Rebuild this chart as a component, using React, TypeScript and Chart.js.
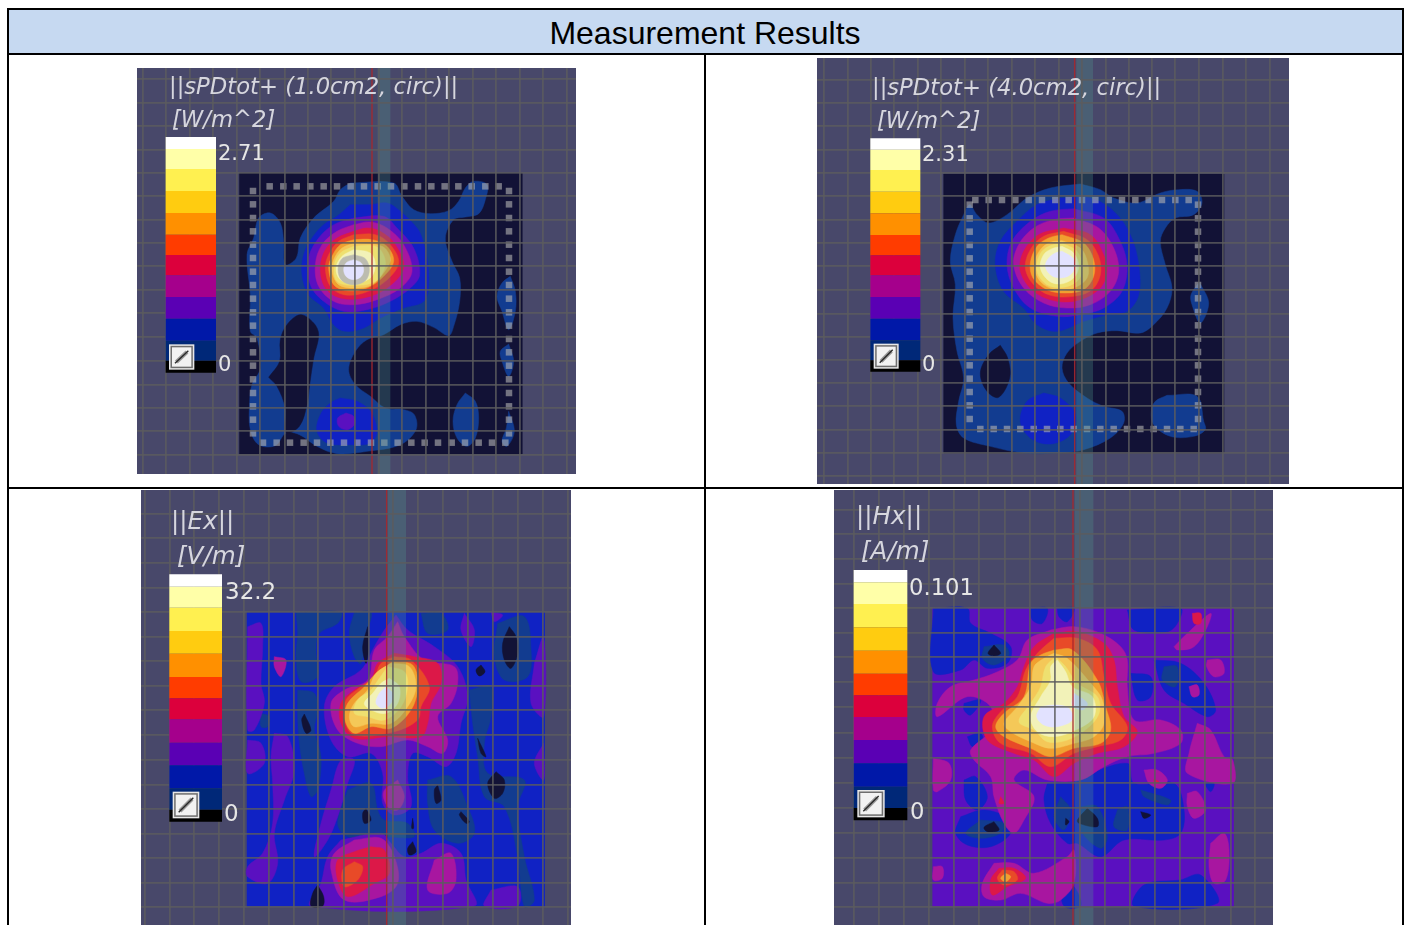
import React, { useEffect, useRef } from "react";
import { Chart, registerables } from "chart.js";

Chart.register(...registerables);

type Layer = [number, number[]];

const levelColors = ["#121236", "#123c90", "#1022c4", "#5a10c0", "#a816a0", "#dc1848", "#e84a28", "#f0a030", "#f4c858", "#eee070", "#f2f2b8", "#e2e2ff", "#bcbcb0"];
const barColors = ["#ffffff", "#ffffa8", "#fff050", "#ffcc10", "#ff9000", "#ff3c00", "#dc003c", "#a5008c", "#5a00b4", "#0018a8", "#002878", "#000000"];

// ---- panel 1: ||sPDtot+ (1.0cm2, circ)||
const p1GridX = [17, 88, 158, 229, 299, 370, 443, 513, 582, 654, 725, 795, 866, 937, 1008, 1078, 1148, 1219, 1290];
const p1GridY = [33, 104, 174, 245, 315, 385, 455, 525, 595, 665, 735, 808, 878, 950, 1020, 1090, 1160];
const p1BarEdges = [207, 243, 303, 369, 435, 500, 561, 622, 687, 752, 818, 878, 914];
const p1DotsTop = [398, 439, 479, 520, 560, 600, 641, 681, 722, 762, 802, 843, 883, 923, 964, 1004, 1045, 1085];
const p1DotsBottom = [378, 419, 459, 500, 540, 580, 621, 661, 702, 742, 782, 823, 863, 903, 944, 984, 1025, 1065, 1105];
const p1DotsSide = [369, 409, 450, 490, 530, 570, 611, 651, 692, 733, 773, 813, 853, 893, 934, 975, 1015, 1055, 1096];
const p1Layers: Layer[] = [
  [1, [640,345,770,345,795,385,830,425,880,437,935,428,965,400,985,360,1010,340,1050,350,1045,395,1025,437,985,447,950,455,925,510,945,580,968,630,968,700,950,775,935,803,890,778,840,760,790,770,740,800,690,815,655,850,635,905,655,950,700,985,745,1020,800,1025,832,1040,837,1085,790,1130,690,1150,600,1157,540,1135,487,1100,447,1095,415,1133,365,1130,340,1085,338,1000,345,950,370,900,360,810,340,790,340,680,330,560,350,510,365,450,400,435,430,465,440,520,445,590,478,570,490,510,530,450,590,400,610,365]],
  [0, [395,928,428,880,430,815,450,770,490,740,530,765,545,800,530,870,518,950,510,1010,487,1075,447,1095,445,1020,420,955]],
  [1, [985,975,1015,1000,1025,1050,1015,1110,990,1135,960,1110,948,1060,960,1010]],
  [1, [1120,625,1135,670,1135,730,1115,785,1095,730,1080,685,1095,645]],
  [1, [1115,828,1130,880,1115,925,1095,880,1090,850]],
  [1, [1115,1030,1132,1090,1110,1135,1095,1120,1108,1080]],
  [2, [640,410,600,445,560,470,525,510,500,560,495,620,515,680,560,720,590,770,625,790,680,780,730,750,800,720,860,700,875,650,870,570,855,510,840,480,790,430,750,405,700,410]],
  [2, [610,990,660,1000,700,1030,720,1090,700,1125,640,1130,570,1125,540,1090,550,1040,580,1005]],
  [3, [627,1035,650,1045,652,1070,630,1085,605,1075,602,1050]],
  [3, [650,450,590,470,545,510,515,570,520,650,560,700,620,730,690,725,760,700,820,660,848,620,830,540,780,480,740,445]],
  [4, [650,470,600,490,555,530,535,590,545,655,590,700,650,710,720,695,790,660,825,610,800,530,750,480,700,462]],
  [5, [650,490,600,510,565,545,550,600,565,660,610,690,680,690,750,660,800,600,775,530,730,490,690,480]],
  [6, [650,500,605,520,575,560,565,600,580,655,620,680,680,675,745,640,785,585,760,530,715,500]],
  [7, [650,515,610,530,585,565,575,600,590,650,630,668,690,660,740,625,770,580,750,535,705,515]],
  [8, [655,525,615,540,590,575,585,610,605,650,650,660,705,650,750,600,760,570,735,535]],
  [9, [650,535,610,555,592,590,600,640,650,652,715,640,745,590,730,545,700,532]],
  [10, [650,545,615,565,597,600,610,635,650,645,700,630,715,590,700,555]],
  [12, [650,560,685,572,697,605,685,638,650,650,615,638,603,605,615,572]],
  [11, [650,575,672,584,680,605,672,626,650,635,628,626,620,605,628,584]],
];

// ---- panel 2: ||sPDtot+ (4.0cm2, circ)||
const p2GridX = [22, 92, 162, 232, 302, 372, 443, 513, 584, 655, 725, 795, 866, 935, 1005, 1075, 1145, 1218, 1288, 1358];
const p2GridY = [65, 135, 205, 275, 345, 415, 485, 555, 625, 695, 767, 838, 905, 975, 1045, 1115, 1185, 1255];
const p2BarEdges = [241, 275, 336, 401, 466, 531, 592, 652, 717, 782, 847, 907, 941];
const p2DotsTop = [475, 515, 555, 595, 635, 675, 715, 755, 795, 835, 875, 915, 955, 995, 1035, 1075, 1115];
const p2DotsBottom = [490, 530, 570, 610, 650, 690, 730, 770, 810, 850, 890, 930, 970, 1010, 1050, 1090, 1130];
const p2DotsSide = [440, 481, 521, 561, 601, 641, 681, 721, 762, 802, 842, 882, 922, 962, 1002, 1042, 1083];
const p2Layers: Layer[] = [
  [1, [790,378,850,395,890,420,960,435,1030,405,1085,395,1140,400,1155,435,1130,470,1075,480,1045,510,1030,550,1045,620,1065,690,1050,750,1010,800,970,825,900,818,840,825,790,850,750,885,735,930,755,975,810,1020,860,1045,915,1060,920,1095,880,1140,800,1175,720,1185,620,1185,520,1165,440,1140,418,1100,425,1030,440,960,420,880,408,780,415,680,400,610,415,530,440,470,458,440,480,470,515,495,570,470,630,420,700,390]],
  [0, [550,862,572,900,578,960,545,1018,510,1000,490,945,515,890]],
  [1, [1050,1012,1140,1015,1160,1090,1165,1115,1130,1135,1060,1135,1010,1100,1003,1060,1015,1030]],
  [1, [1147,672,1175,735,1150,795,1125,740,1122,710]],
  [2, [730,420,820,420,890,460,940,530,965,620,965,710,930,760,870,770,800,790,720,820,660,800,620,750,560,700,535,620,550,550,600,490,660,440]],
  [2, [680,1005,730,1020,775,1070,760,1130,700,1158,640,1140,610,1090,630,1030]],
  [3, [770,452,860,480,905,540,930,620,915,700,860,750,790,770,720,775,640,750,590,690,570,620,585,550,640,490,700,460]],
  [4, [770,480,845,510,890,570,905,640,880,700,820,740,750,750,680,735,620,690,590,620,605,560,650,510,710,485]],
  [5, [740,510,820,530,860,590,870,640,850,690,790,725,720,730,650,700,610,640,620,580,665,530]],
  [6, [740,520,810,545,845,595,850,650,825,695,770,715,700,712,650,680,625,630,640,575,680,535]],
  [7, [735,530,800,555,830,605,830,655,800,695,740,705,690,695,648,660,640,615,660,565,695,540]],
  [8, [735,548,790,570,812,615,810,660,770,690,715,695,670,670,652,620,670,575,700,553]],
  [9, [735,555,780,580,795,625,785,665,740,688,690,680,660,640,668,590,695,565]],
  [10, [735,565,770,585,785,625,770,660,730,678,695,668,670,630,680,590,705,572]],
  [11, [735,580,768,600,775,625,760,650,730,660,700,650,685,625,695,600,715,585]],
];

// ---- panel 3: ||Ex||
const p3GridX = [11, 86, 160, 235, 310, 385, 458, 532, 608, 683, 757, 832, 905, 980, 1055, 1130, 1205, 1280];
const p3GridY = [71, 145, 219, 293, 367, 440, 514, 588, 660, 735, 810, 884, 958, 1032, 1105, 1180, 1252];
const p3BarEdges = [253, 290, 353, 423, 491, 561, 625, 688, 758, 826, 895, 959, 995];
const p3Layers: Layer[] = [
  [1, [465,367,600,367,590,400,535,430,525,480,530,560,480,575,465,500,470,430]],
  [1, [470,600,520,610,530,660,520,720,540,800,530,900,510,920,490,850,475,760,470,680]],
  [1, [640,367,690,367,680,420,660,520,640,500,625,430]],
  [1, [985,600,1050,590,1050,680,1030,760,1040,850,1150,870,1130,950,1150,1100,1180,1230,1150,1250,1130,1100,1090,950,1030,920,1010,800,995,700]],
  [1, [1070,400,1150,380,1170,480,1160,560,1090,570,1060,500]],
  [1, [620,900,690,880,710,960,730,990,800,1000,820,1040,740,1040,620,1040,590,1000]],
  [1, [860,870,930,860,980,950,1000,1030,950,1060,880,1020,860,940]],
  [1, [360,670,385,680,380,710,360,710]],
  [1, [840,370,900,370,920,420,860,430]],
  [3, [320,410,360,400,365,470,360,580,370,640,340,720,320,720]],
  [3, [320,750,360,760,370,820,320,850]],
  [3, [400,730,440,740,460,840,430,930,400,1030,410,1120,380,1180,320,1160,320,1130,365,1090,395,1000,395,880,390,800]],
  [3, [1180,520,1208,440,1208,680,1170,640]],
  [3, [1208,760,1208,870,1180,820]],
  [3, [765,375,800,420,880,470,950,530,980,620,960,700,945,790,915,830,860,800,815,790,800,860,810,950,760,975,725,940,725,850,690,790,620,800,570,750,550,650,580,590,660,540,700,470,730,420]],
  [3, [600,1050,720,1030,750,1060,790,1100,840,1090,900,1060,960,1090,975,1170,1000,1248,510,1248,540,1180,560,1100]],
  [3, [570,900,600,810,640,810,620,880,590,980,560,1050,520,1100,540,1000]],
  [3, [1050,1200,1130,1190,1130,1248,1030,1248]],
  [3, [970,370,1000,420,990,470,960,420]],
  [3, [1050,367,1085,375,1060,395]],
  [4, [400,500,435,510,420,560,400,530]],
  [4, [770,395,790,440,850,510,940,530,950,580,930,640,890,680,920,750,905,790,860,770,800,750,720,770,650,760,590,720,570,640,610,600,680,570,700,480,740,440]],
  [4, [770,870,790,920,770,960,740,950,728,905]],
  [4, [640,1050,720,1045,760,1100,770,1180,720,1220,610,1230,570,1140,580,1090]],
  [4, [880,1110,930,1090,945,1170,920,1210,860,1200]],
  [5, [760,490,820,500,890,520,900,580,870,640,860,700,840,740,740,740,640,745,600,700,600,640,640,600,690,570,710,520]],
  [5, [690,1070,730,1080,745,1150,700,1180,620,1220,590,1170,590,1110,640,1085]],
  [6, [760,500,810,510,865,590,840,650,830,690,760,725,640,735,610,690,615,630,660,590,700,560,720,520]],
  [6, [640,1115,665,1130,650,1170,610,1190,605,1140]],
  [7, [755,515,815,525,830,590,810,660,750,715,690,710,640,730,612,690,620,640,670,590,705,550]],
  [8, [750,520,805,530,825,590,800,650,750,700,690,700,640,710,625,680,640,640,680,600,705,550]],
  [9, [740,530,790,545,800,590,780,650,730,690,680,680,640,670,650,630,690,600,715,565]],
  [10, [745,565,775,590,770,640,735,670,690,660,670,640,695,610,720,580]],
  [11, [735,590,755,610,750,640,725,655,705,640,715,610]],
  [0, [1105,410,1125,440,1130,490,1110,535,1090,510,1085,460]],
  [0, [1020,525,1032,545,1015,558,1005,540]],
  [0, [680,410,682,480,675,520,665,470]],
  [0, [490,672,510,720,495,730,482,690]],
  [0, [1010,745,1035,800,1020,790]],
  [0, [1065,845,1090,870,1085,910,1060,925,1040,880]],
  [0, [890,885,900,930,885,940,880,900]],
  [0, [675,955,690,990,670,1000,665,970]],
  [0, [960,965,985,995,975,1000,955,975]],
  [0, [815,1055,825,1085,805,1095,800,1075]],
  [0, [530,1185,548,1220,545,1248,510,1248,515,1210]],
  [0, [815,985,818,1015,812,1015]],
];

// ---- panel 4: ||Hx||
const p4GridX = [60, 135, 210, 285, 360, 436, 512, 587, 662, 737, 812, 887, 962, 1037, 1112, 1190, 1262];
const p4GridY = [60, 133, 207, 281, 355, 428, 500, 575, 652, 728, 803, 878, 953, 1028, 1103, 1178, 1250];
const p4BarEdges = [240, 277, 342, 412, 482, 551, 616, 681, 750, 820, 890, 954, 991];
const p4Layers: Layer[] = [
  [2, [298,355,400,355,410,400,470,430,530,470,520,520,460,535,420,510,380,540,298,545]],
  [2, [590,355,640,355,625,400,595,390]],
  [2, [670,355,720,355,700,395,675,380]],
  [2, [880,360,1040,355,1030,400,1000,425,900,420]],
  [2, [890,550,950,560,950,620,910,630]],
  [2, [960,510,1040,520,1110,580,1145,660,1120,680,1050,640,990,600]],
  [2, [640,880,740,860,880,820,900,880,1020,880,1050,960,1040,1030,990,1050,870,1050,800,1100,730,1060,700,1060,650,1000,630,930]],
  [2, [380,980,450,960,520,985,530,1030,470,1070,400,1065,365,1030]],
  [2, [390,870,425,860,460,920,430,960,395,930]],
  [2, [400,740,440,730,445,765,415,770]],
  [2, [390,640,440,630,410,675,390,660]],
  [2, [1040,1170,1100,1155,1150,1240,900,1248,930,1185]],
  [2, [680,1180,720,1190,740,1248,690,1248]],
  [2, [1110,880,1140,880,1130,905]],
  [1, [450,470,510,465,525,495,480,525,445,505]],
  [1, [440,990,510,1000,500,1030,440,1045,395,1030]],
  [1, [680,920,710,960,690,1020,660,980]],
  [1, [740,950,790,950,820,1040,800,1075,740,1020]],
  [1, [850,960,880,950,880,1020,840,1010]],
  [1, [990,530,1030,530,1025,590,985,570]],
  [1, [920,900,1010,930,1000,945,930,920]],
  [4, [298,805,345,820,350,870,310,905,298,900]],
  [4, [650,420,720,410,800,430,860,470,880,510,880,590,900,690,980,690,1040,720,1040,760,960,790,880,800,810,830,740,870,640,870,570,840,540,870,600,920,570,990,540,1030,510,1000,480,920,470,860,420,810,410,780,470,720,470,650,400,620,310,680,310,640,350,590,420,570,480,550,550,510,580,450]],
  [4, [480,1120,540,1120,600,1150,700,1100,720,1080,720,1180,680,1230,640,1240,560,1210,500,1230,450,1220,445,1180]],
  [4, [1090,700,1130,720,1170,800,1196,810,1196,880,1060,850,1065,790]],
  [4, [1130,1060,1170,1030,1185,1080,1175,1170,1140,1180,1125,1130]],
  [4, [1060,910,1090,905,1115,960,1080,985,1060,950]],
  [4, [1020,470,1060,430,1130,370,1120,410,1080,470,1030,480]],
  [4, [1120,510,1160,510,1170,550,1140,560,1118,530]],
  [4, [1065,590,1090,585,1095,615,1075,620]],
  [4, [930,840,970,840,1000,870,980,895,945,880]],
  [4, [298,1130,325,1130,325,1165,298,1170]],
  [5, [1075,370,1100,370,1100,400,1080,400]],
  [5, [500,920,510,940,495,940]],
  [5, [960,868,975,875,960,880]],
  [5, [660,430,730,425,810,460,840,510,850,590,870,680,910,725,870,770,790,790,720,820,660,860,600,810,540,790,460,750,450,680,510,640,550,590,570,530,600,470]],
  [5, [495,1135,540,1135,575,1165,520,1190,475,1215,470,1170]],
  [6, [660,445,730,445,790,480,810,560,830,640,880,710,860,750,790,770,720,790,650,830,590,790,500,760,475,710,500,665,550,620,575,540,610,490]],
  [6, [505,1140,540,1145,550,1170,510,1185,490,1165]],
  [7, [660,480,715,480,790,570,815,650,830,720,800,760,720,775,650,800,590,775,510,740,485,710,510,670,570,620,590,520,620,495]],
  [7, [515,1150,530,1160,515,1175,500,1165]],
  [8, [660,490,700,505,770,580,805,630,810,700,780,740,720,760,650,775,590,755,530,725,510,700,550,650,590,590,600,530,630,505]],
  [9, [665,500,695,530,730,580,790,620,795,670,760,715,700,750,640,755,600,720,555,695,590,640,620,590,635,530]],
  [10, [670,510,695,545,715,590,775,620,780,680,725,720,660,740,610,725,590,680,620,620,650,570,650,530]],
  [11, [620,650,665,645,705,655,715,690,670,710,630,705,608,680]],
  [11, [720,610,760,640,745,660,715,645]],
  [0, [480,465,500,490,480,498,462,490]],
  [0, [480,995,495,1020,460,1025,450,1012]],
  [0, [760,955,790,985,790,1010,735,1000,730,990]],
  [0, [695,985,705,995,695,1005]],
  [0, [920,965,950,975,930,985]],
];

type Panel = {
  left: number; top: number; width: number; height: number;
  gridX: number[]; gridY: number[]; barEdges: number[]; layers: Layer[];
  plot: number[]; base: number; barX: number[]; icon: number[]; redX: number; band: number[];
  dots?: { top: number[]; bottom: number[]; side: number[]; yTop: number; yBottom: number; xLeft: number; xRight: number };
  title: string; unit: string; max: string; titleSize: number; valueSize: number;
  titleAt: number[]; unitAt: number[]; maxAt: number[]; zeroAt: number[];
};

const panels: Panel[] = [
  { left: 137, top: 68, width: 439, height: 406, gridX: p1GridX, gridY: p1GridY, barEdges: p1BarEdges, layers: p1Layers,
    plot: [307, 315, 1155, 1158], base: 0, barX: [86, 237], icon: [96, 830, 172, 904], redX: 705, band: [722, 760],
    dots: { top: p1DotsTop, bottom: p1DotsBottom, side: p1DotsSide, yTop: 355, yBottom: 1124, xLeft: 348, xRight: 1116 },
    title: "||sPDtot+ (1.0cm2, circ)||", unit: "[W/m^2]", max: "2.71", titleSize: 22.7, valueSize: 21,
    titleAt: [169, 73], unitAt: [172, 106], maxAt: [218, 140], zeroAt: [218, 351] },
  { left: 817, top: 58, width: 472, height: 426, gridX: p2GridX, gridY: p2GridY, barEdges: p2BarEdges, layers: p2Layers,
    plot: [380, 348, 1220, 1185], base: 0, barX: [160, 310], icon: [170, 857, 245, 932], redX: 773, band: [778, 828],
    dots: { top: p2DotsTop, bottom: p2DotsBottom, side: p2DotsSide, yTop: 426, yBottom: 1113, xLeft: 458, xRight: 1143 },
    title: "||sPDtot+ (4.0cm2, circ)||", unit: "[W/m^2]", max: "2.31", titleSize: 22.7, valueSize: 21,
    titleAt: [872, 74], unitAt: [877, 107], maxAt: [922, 141], zeroAt: [922, 351] },
  { left: 141, top: 490, width: 430, height: 435, gridX: p3GridX, gridY: p3GridY, barEdges: p3BarEdges, layers: p3Layers,
    plot: [318, 367, 1210, 1250], base: 2, barX: [85, 243], icon: [95, 905, 175, 985], redX: 737, band: [740, 795],
    title: "||Ex||", unit: "[V/m]", max: "32.2", titleSize: 24.6, valueSize: 23,
    titleAt: [171, 508], unitAt: [177, 543], maxAt: [225, 578], zeroAt: [224, 800] },
  { left: 834, top: 490, width: 439, height: 435, gridX: p4GridX, gridY: p4GridY, barEdges: p4BarEdges, layers: p4Layers,
    plot: [296, 355, 1198, 1250], base: 3, barX: [59, 220], icon: [70, 900, 152, 982], redX: 717, band: [722, 778],
    title: "||Hx||", unit: "[A/m]", max: "0.101", titleSize: 24.6, valueSize: 22.7,
    titleAt: [856, 503], unitAt: [861, 538], maxAt: [909, 574], zeroAt: [910, 798] },
];

const toPoints = (flat: number[]) => {
  const out: { x: number; y: number }[] = [];
  for (let i = 0; i < flat.length; i += 2) out.push({ x: flat[i], y: flat[i + 1] });
  return out;
};
const closed = (flat: number[]) => toPoints([...flat, flat[0], flat[1]]);

const segment = (data: { x: number; y: number }[], color: string, width: number) =>
  ({ data, showLine: true, fill: false, borderColor: color, borderWidth: width, borderCapStyle: "butt", pointRadius: 0 });
const marker = (at: { x: number; y: number }, side: number, color: string) =>
  ({ data: [at], showLine: false, pointStyle: "rect", pointRadius: side / Math.SQRT2, pointBorderWidth: 0, pointBackgroundColor: color });

function buildPlotDatasets(p: Panel) {
  const ds: any[] = [];
  const poly = (flat: number[], color: string, tension: number) =>
    ds.push({ data: closed(flat), showLine: true, fill: "shape", backgroundColor: color, borderColor: color, borderWidth: 0.5, tension, pointRadius: 0 });

  const [px0, py0, px1, py1] = p.plot;
  poly([px0, py0, px1, py0, px1, py1, px0, py1], levelColors[p.base], 0);
  for (const [level, flat] of p.layers) poly(flat, levelColors[level], 0.35);

  if (p.dots) {
    const d = p.dots;
    const dotData = [
      ...d.top.map((x) => ({ x, y: d.yTop })),
      ...d.bottom.map((x) => ({ x, y: d.yBottom })),
      ...d.side.map((y) => ({ x: d.xLeft, y })),
      ...d.side.map((y) => ({ x: d.xRight, y })),
    ];
    ds.push({ data: dotData, showLine: false, pointStyle: "rect", pointRadius: 4.6, pointBorderWidth: 0, pointBackgroundColor: "rgba(176,176,176,0.62)" });
  }

  ds.push(segment([{ x: p.redX, y: 0 }, { x: p.redX, y: p.height * 3 }], "rgba(165,40,45,0.9)", 1.4));
  const bandX = (p.band[0] + p.band[1]) / 2;
  ds.push(segment([{ x: bandX, y: 0 }, { x: bandX, y: p.height * 3 }], "rgba(78,150,140,0.3)", (p.band[1] - p.band[0]) / 3));

  ds.forEach((d, i) => (d.order = -i));
  return ds;
}

function buildBarDatasets(p: Panel) {
  const ds: any[] = [];
  const barC = (p.barX[0] + p.barX[1]) / 2;
  const barW = (p.barX[1] - p.barX[0]) / 3;
  barColors.forEach((c, i) => {
    ds.push(segment([{ x: barC, y: p.barEdges[i] }, { x: barC, y: p.barEdges[i + 1] }], c, barW));
  });
  const [ix0, iy0, ix1, iy1] = p.icon;
  const ic = { x: (ix0 + ix1) / 2, y: (iy0 + iy1) / 2 };
  const side = (ix1 - ix0) / 3;
  ds.push(marker(ic, side, "#e8e8e8"));
  ds.push(marker(ic, side - 3, "#6e6e6e"));
  ds.push(marker(ic, side - 6, "#f2f2f2"));
  ds.push(segment([{ x: ix0 + 22, y: iy1 - 22 }, { x: ix1 - 22, y: iy0 + 22 }], "#9a9a9a", 4));
  ds.push(segment([{ x: ix0 + 18, y: iy1 - 18 }, { x: ix1 - 18, y: iy0 + 18 }], "#2a2a2a", 1.4));
  ds.forEach((d, i) => (d.order = -i));
  return ds;
}

function PanelChart({ p }: { p: Panel }) {
  const plotRef = useRef<HTMLCanvasElement>(null);
  const barRef = useRef<HTMLCanvasElement>(null);
  useEffect(() => {
    const axis = (lines: number[], max: number, reverse: boolean) => ({
      type: "linear",
      min: 0,
      max,
      reverse,
      afterBuildTicks: (s: any) => { s.ticks = lines.map((value) => ({ value })); },
      ticks: { display: false },
      border: { display: false },
      grid: { color: "rgba(92,92,94,0.82)", lineWidth: 1.8, drawTicks: false, z: 1 },
    });
    const base = {
      animation: false,
      responsive: false,
      events: [],
      layout: { padding: 0, autoPadding: false },
      plugins: { legend: { display: false }, tooltip: { enabled: false } },
    };
    const plotChart = new Chart(plotRef.current!, {
      type: "scatter",
      data: { datasets: buildPlotDatasets(p) },
      options: { ...base, scales: { x: axis(p.gridX, p.width * 3, false), y: axis(p.gridY, p.height * 3, true) } } as any,
    });
    const barChart = new Chart(barRef.current!, {
      type: "scatter",
      data: { datasets: buildBarDatasets(p) },
      options: { ...base, scales: {
        x: { type: "linear", display: false, min: 0, max: p.width * 3 },
        y: { type: "linear", display: false, min: 0, max: p.height * 3, reverse: true },
      } } as any,
    });
    return () => { plotChart.destroy(); barChart.destroy(); };
  }, [p]);
  const box = { position: "absolute", left: p.left, top: p.top, width: p.width, height: p.height, display: "block" } as const;
  return (
    <>
      <canvas ref={plotRef} width={p.width} height={p.height} style={{ ...box, background: "#48486a" }} />
      <canvas ref={barRef} width={p.width} height={p.height} style={box} />
    </>
  );
}

const rule = (left: number, top: number, width: number, height: number) => (
  <div style={{ position: "absolute", left, top, width, height, background: "#000" }} />
);

function Label({ at, text, italic, size }: { at: number[]; text: string; italic: boolean; size: number }) {
  return (
    <div
      style={{
        position: "absolute", left: at[0], top: at[1], whiteSpace: "pre", lineHeight: "26px",
        fontFamily: "'DejaVu Sans', sans-serif", fontSize: size, fontStyle: italic ? "italic" : "normal",
        color: italic ? "#d6d6de" : "#e6e6e6",
      }}
    >
      {text}
    </div>
  );
}

export default function App() {
  return (
    <div style={{ position: "fixed", left: 0, top: 0, width: 1407, height: 925, background: "#fff", overflow: "hidden" }}>
      <div style={{ position: "absolute", left: 8, top: 10, width: 1394, height: 43, background: "#c6d9f1", textAlign: "center", fontFamily: "'Liberation Sans', Arial, sans-serif", fontSize: 32, lineHeight: "47px", color: "#000" }}>
        Measurement Results
      </div>
      {rule(7, 8, 1397, 2)}
      {rule(7, 53, 1397, 2)}
      {rule(7, 8, 2, 917)}
      {rule(1402, 8, 2, 917)}
      {rule(704, 54, 2, 871)}
      {rule(7, 487, 1397, 2)}
      {panels.map((p, i) => <PanelChart key={i} p={p} />)}
      {panels.map((p, i) => (
        <React.Fragment key={i}>
          <Label at={p.titleAt} text={p.title} italic size={p.titleSize} />
          <Label at={p.unitAt} text={p.unit} italic size={p.titleSize} />
          <Label at={p.maxAt} text={p.max} italic={false} size={p.valueSize} />
          <Label at={p.zeroAt} text="0" italic={false} size={p.valueSize} />
        </React.Fragment>
      ))}
    </div>
  );
}
